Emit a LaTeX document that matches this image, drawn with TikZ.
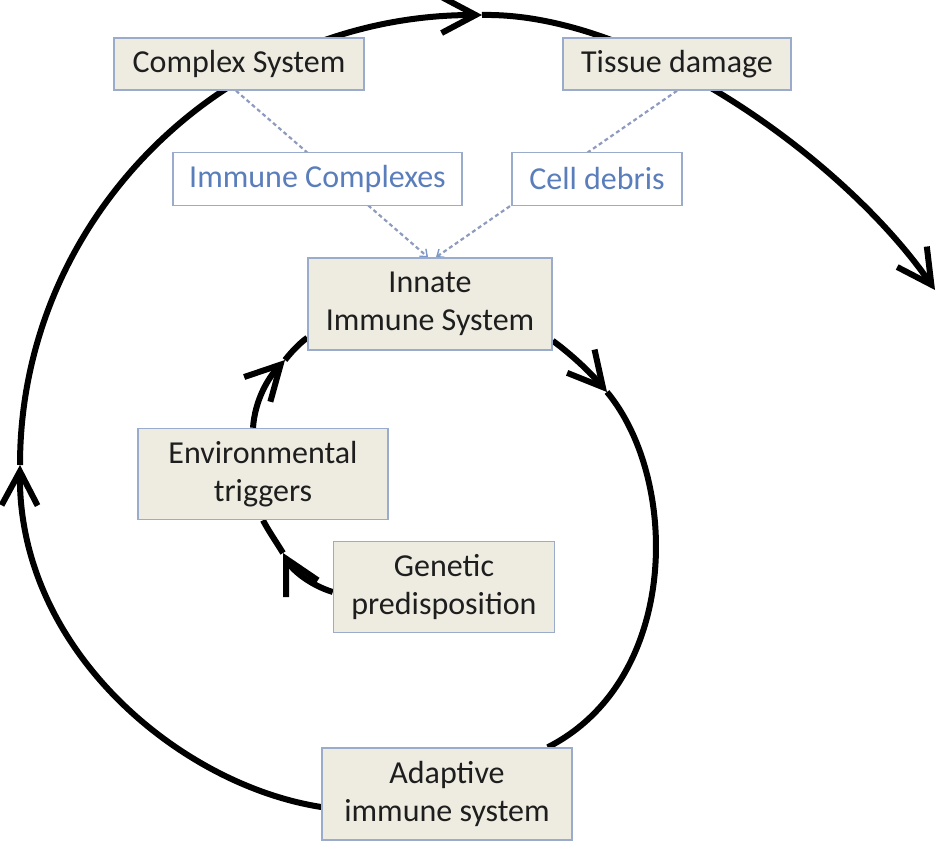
\documentclass[tikz,border=0pt]{standalone}
\usepackage{fontspec}
\setmainfont{Carlito}
\usetikzlibrary{arrows.meta}
\pgfdeclarelayer{background}
\pgfsetlayers{background,main}
\definecolor{boxfill}{HTML}{EEECE1}
\definecolor{boxline}{HTML}{9AABCB}
\definecolor{bluetext}{HTML}{5A7EBB}
\definecolor{dashcol}{HTML}{8E9BBE}
\definecolor{txt}{HTML}{1E1E1E}
\begin{document}
\begin{tikzpicture}[x=1pt,y=-1pt,
  box/.style={draw=boxline, line width=1.5pt, fill=boxfill, text=txt, inner sep=0pt,
    align=center, font=\fontsize{32}{38}\selectfont},
  bluebox/.style={box, fill=white, text=bluetext},
  curve/.style={line width=6pt, black},
  tip/.style={-{Straight Barb[length=34pt,width=36pt,line width=6pt]}},
  dashlink/.style={draw=dashcol, line width=2.2pt, dash pattern=on 4pt off 3pt,
    -{Straight Barb[length=6pt,width=10pt,line width=1.4pt,color=bluetext!80]}}
]
\useasboundingbox (0,0) rectangle (942,845);

% nodes
\node[box, minimum width=250pt, minimum height=52pt] (cs) at (239,64) {Complex System};
\node[box, minimum width=228pt, minimum height=52pt] (td) at (677,64) {Tissue damage};
\node[bluebox, minimum width=289pt, minimum height=53pt] (ic) at (317.5,179) {Immune Complexes};
\node[bluebox, minimum width=170pt, minimum height=53pt] (cd) at (597,179) {Cell debris};
\node[box, minimum width=244pt, minimum height=92pt] (in) at (430,304) {Innate\\Immune System};
\node[box, minimum width=250pt, minimum height=91pt] (env) at (263,474) {Environmental\\triggers};
\node[box, minimum width=221pt, minimum height=91pt] (gen) at (444,587) {Genetic\\predisposition};
\node[box, minimum width=250pt, minimum height=92pt] (ad) at (447,794) {Adaptive\\immune system};

% free ends / turning points
\coordinate (L) at (20,465);
\coordinate (T) at (482,15);
\coordinate (E) at (935,290);
\coordinate (R) at (607,392);
\coordinate (P) at (285,360);
\coordinate (Q) at (283,553);

\begin{pgfonlayer}{background}
  % outer spiral
  \draw[curve, tip] ([yshift=-13pt]ad.west) .. controls (180,785) and (18,650) .. (L);
  \draw[curve, tip] (L) .. controls (20,217) and (226,15) .. (T);
  \draw[curve, tip] (T) .. controls (640,12) and (845,160) .. (E);
  % inner right arc
  \draw[curve, tip] ([yshift=10pt]in.south east) .. controls (572,355) and (590,372) .. (R);
  \draw[curve] (R) .. controls (680,480) and (680,680) .. ([xshift=-25pt]ad.north east);
  % innermost arcs
  \draw[curve, tip] ([xshift=-10pt]env.north) .. controls (255,400) and (268,378) .. (P);
  \draw[curve] (P) .. controls (293,350) and (300,343) .. ([yshift=13pt]in.south west);
  \draw[curve, tip] ([yshift=-5pt]gen.west) .. controls (310,585) and (292,570) .. (Q);
  \draw[curve] (Q) .. controls (275,540) and (268,530) .. (env.south);
  % dashed links
  \draw[dashlink] ([xshift=-3pt]cs.south) -- ([xshift=-2pt]in.north);
  \draw[dashlink] (td.south) -- ([xshift=6pt]in.north);
\end{pgfonlayer}
\end{tikzpicture}
\end{document}
